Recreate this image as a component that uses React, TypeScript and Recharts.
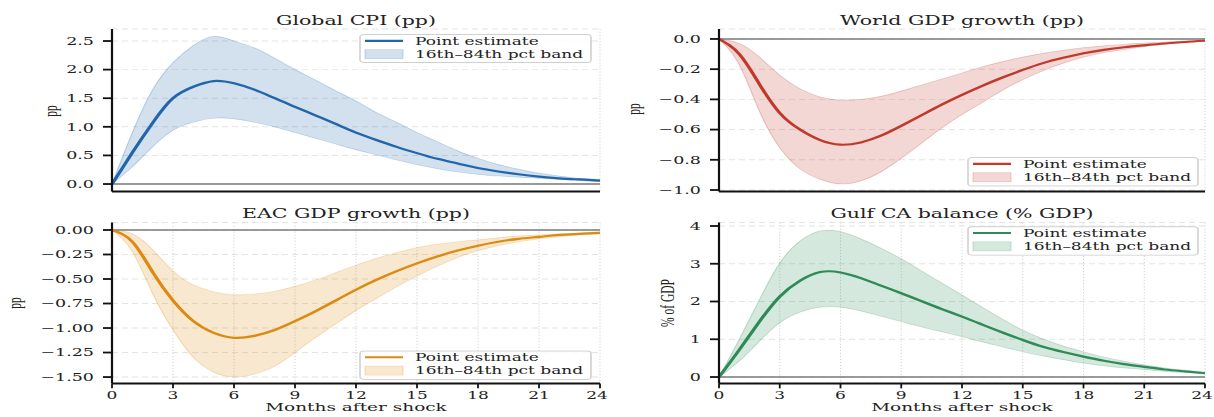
import { ComposedChart, Area, Line, XAxis, YAxis, CartesianGrid, ReferenceLine, Legend } from 'recharts';

// the reference picture is squashed vertically, so draw tall and scale down
const S = 1.65;
const W = 1214;
const H = 417;
const FONT = '"DejaVu Serif", serif';

const months = [0, 1, 2, 3, 4, 5, 6, 7, 8, 9, 10, 11, 12, 13, 14, 15, 16, 17, 18, 19, 20, 21, 22, 23, 24];
const xTicks = [0, 3, 6, 9, 12, 15, 18, 21, 24];

const cpiPoint = [0, 0.55, 1.07, 1.5, 1.7, 1.8, 1.76, 1.65, 1.5, 1.35, 1.2, 1.05, 0.9, 0.77, 0.65, 0.54, 0.44, 0.36, 0.28, 0.22, 0.17, 0.13, 0.1, 0.08, 0.06];
const cpiLow = [0, 0.3, 0.65, 0.94, 1.08, 1.15, 1.14, 1.08, 1.0, 0.9, 0.8, 0.7, 0.6, 0.51, 0.42, 0.34, 0.27, 0.21, 0.17, 0.14, 0.12, 0.1, 0.08, 0.06, 0.04];
const cpiHigh = [0, 0.9, 1.65, 2.12, 2.42, 2.58, 2.5, 2.38, 2.2, 2.0, 1.82, 1.63, 1.45, 1.25, 1.08, 0.9, 0.74, 0.58, 0.45, 0.34, 0.26, 0.19, 0.14, 0.1, 0.08];

const worldPoint = [0, -0.1, -0.3, -0.49, -0.6, -0.67, -0.7, -0.685, -0.64, -0.575, -0.505, -0.435, -0.37, -0.31, -0.255, -0.205, -0.16, -0.125, -0.095, -0.072, -0.055, -0.042, -0.03, -0.02, -0.012];
const worldLow = [0, -0.17, -0.48, -0.72, -0.86, -0.93, -0.96, -0.94, -0.88, -0.79, -0.69, -0.59, -0.5, -0.42, -0.34, -0.27, -0.21, -0.16, -0.12, -0.09, -0.07, -0.05, -0.035, -0.02, -0.012];
const worldHigh = [0, -0.03, -0.12, -0.24, -0.33, -0.385, -0.405, -0.4, -0.38, -0.345, -0.305, -0.265, -0.225, -0.185, -0.15, -0.12, -0.095, -0.075, -0.058, -0.045, -0.035, -0.027, -0.02, -0.014, -0.01];

const eacPoint = [0, -0.12, -0.43, -0.72, -0.93, -1.05, -1.1, -1.08, -1.02, -0.93, -0.83, -0.72, -0.61, -0.51, -0.42, -0.34, -0.27, -0.21, -0.16, -0.12, -0.09, -0.07, -0.05, -0.04, -0.03];
const eacLow = [0, -0.22, -0.65, -1.02, -1.3, -1.45, -1.5, -1.47, -1.39, -1.25, -1.1, -0.96, -0.82, -0.7, -0.58, -0.47, -0.37, -0.28, -0.21, -0.16, -0.12, -0.09, -0.07, -0.05, -0.04];
const eacHigh = [0, -0.04, -0.2, -0.42, -0.56, -0.63, -0.66, -0.655, -0.625, -0.575, -0.51, -0.435, -0.36, -0.29, -0.23, -0.18, -0.145, -0.12, -0.1, -0.08, -0.06, -0.05, -0.04, -0.03, -0.02];

const gulfPoint = [0, 0.72, 1.47, 2.13, 2.55, 2.78, 2.77, 2.62, 2.42, 2.22, 2.01, 1.8, 1.6, 1.39, 1.18, 0.98, 0.8, 0.66, 0.54, 0.43, 0.34, 0.27, 0.2, 0.15, 0.1];
const gulfLow = [0, 0.42, 0.95, 1.44, 1.72, 1.85, 1.85, 1.75, 1.61, 1.47, 1.33, 1.2, 1.07, 0.93, 0.8, 0.67, 0.56, 0.46, 0.37, 0.3, 0.24, 0.2, 0.15, 0.12, 0.09];
const gulfHigh = [0, 1.0, 2.05, 3.02, 3.6, 3.87, 3.85, 3.66, 3.41, 3.13, 2.81, 2.49, 2.17, 1.85, 1.53, 1.24, 1.01, 0.82, 0.67, 0.53, 0.42, 0.32, 0.24, 0.18, 0.13];

const cpiTicks = [0, 0.5, 1, 1.5, 2, 2.5];
const worldTicks = [-1, -0.8, -0.6, -0.4, -0.2, 0];
const eacTicks = [-1.5, -1.25, -1, -0.75, -0.5, -0.25, 0];
const gulfTicks = [0, 1, 2, 3, 4];

const lineLabel = 'Point estimate';
const bandLabel = '16th–84th pct band';
const xLabel = 'Months after shock';

function fmt(v: number, digits: number) {
  return v.toFixed(digits).replace('-', '\u2212');
}

// keeps the last x label ("24") inside the page edge
function XTick({ x, y, payload, edge }: any) {
  const dx = x > edge - 12 ? -3 : 0;
  return (
    <text x={x + dx} y={y} dy="0.71em" textAnchor="middle" fontFamily={FONT} fontSize={17} fill="#222">
      {payload.value}
    </text>
  );
}

function LegendBox({ payload, color, width, height }: any) {
  const items = [...(payload || [])].sort((a: any) => (a.type === 'line' ? -1 : 1));
  return (
    <svg width={width} height={height} style={{ display: 'block' }}>
      <rect x={1} y={1} width={width - 2} height={height - 2} rx={4} fill="rgba(255,255,255,0.85)" stroke="#d0d0d0" strokeWidth={1.6} />
      {items.map((it: any, i: number) => {
        const cy = i === 0 ? 11.5 : 33.5;
        return (
          <g key={it.value}>
            {it.type === 'line' ? (
              <line x1={6} x2={44} y1={cy} y2={cy} stroke={color} strokeWidth={3.6} />
            ) : (
              <rect x={6} y={cy - 7.5} width={38} height={15} fill={color} fillOpacity={0.2} stroke={color} strokeOpacity={0.25} />
            )}
            <text x={56} y={cy} dominantBaseline="central" fontFamily={FONT} fontSize={17} fill="#222">
              {it.value}
            </text>
          </g>
        );
      })}
    </svg>
  );
}

interface PanelProps {
  left: number;
  top: number;
  width: number;
  height: number;
  yWidth: number;
  margin: { top: number; right: number; bottom: number; left: number };
  xHeight: number;
  showX: boolean;
  domain: [number, number];
  ticks: number[];
  digits: number;
  color: string;
  point: number[];
  low: number[];
  high: number[];
  legend: { left: number; top: number; width: number; height: number };
}

function Panel(p: PanelProps) {
  const data = months.map((m, i) => ({ m, point: p.point[i], band: [p.low[i], p.high[i]] }));
  const edge = p.width - p.margin.right;
  return (
    <div style={{ position: 'absolute', left: p.left, top: p.top }}>
      <ComposedChart width={p.width} height={p.height} data={data} margin={p.margin}>
        <CartesianGrid horizontal={false} stroke="#c8c8c8" strokeDasharray="2 3" strokeWidth={1} />
        <CartesianGrid vertical={false} stroke="#e4e4e4" strokeDasharray="6 4" strokeWidth={1.6} />
        <XAxis
          dataKey="m"
          type="number"
          domain={[0, 24]}
          ticks={xTicks}
          height={p.xHeight}
          axisLine={{ stroke: '#111', strokeWidth: 3.4 }}
          tickLine={{ stroke: '#111', strokeWidth: 1.8 }}
          tickSize={8}
          tickMargin={5}
          tick={p.showX ? (props: any) => <XTick {...props} edge={edge} /> : false}
        />
        <YAxis
          type="number"
          domain={p.domain}
          ticks={p.ticks}
          allowDataOverflow
          width={p.yWidth}
          axisLine={{ stroke: '#111', strokeWidth: 2.2 }}
          tickLine={{ stroke: '#111', strokeWidth: 3 }}
          tickSize={9}
          tickMargin={9}
          tick={{ fill: '#222', fontSize: 17.5, fontFamily: FONT }}
          tickFormatter={(v: number) => fmt(v, p.digits)}
        />
        <Area
          dataKey="band"
          name={bandLabel}
          type="natural"
          fill={p.color}
          fillOpacity={0.2}
          stroke={p.color}
          strokeOpacity={0.25}
          strokeWidth={1.2}
          legendType="rect"
          isAnimationActive={false}
        />
        <ReferenceLine y={0} stroke="#7a7a7a" strokeWidth={2.6} />
        <Line
          dataKey="point"
          name={lineLabel}
          type="natural"
          stroke={p.color}
          strokeWidth={3.6}
          dot={false}
          legendType="line"
          isAnimationActive={false}
        />
        <Legend
          layout="vertical"
          align="center"
          verticalAlign="middle"
          wrapperStyle={{ left: p.legend.left, top: p.legend.top, width: p.legend.width, height: p.legend.height }}
          content={(props: any) => (
            <LegendBox payload={props.payload} color={p.color} width={p.legend.width} height={p.legend.height} />
          )}
        />
      </ComposedChart>
    </div>
  );
}

const topMargin = { top: 29 * S, right: 10, bottom: 0, left: 0 };
const topMarginR = { top: 29 * S, right: 9, bottom: 0, left: 0 };
const botMargin = { top: 37.1, right: 10, bottom: 25.2, left: 0 };
const botMarginR = { top: 37.1, right: 9, bottom: 25.2, left: 0 };

export default function App() {
  const txt = { fontFamily: FONT, fill: '#222' };
  const ylab = { fontFamily: '"Liberation Serif", serif', fontSize: 19, fill: '#222' };
  return (
    <div style={{ position: 'absolute', left: 0, top: 0, width: W, height: H, overflow: 'hidden', background: '#fff' }}>
      <div style={{ position: 'relative', width: W, height: H * S, transform: `scaleY(${1 / S})`, transformOrigin: '0 0' }}>
        <Panel
          left={0} top={0} width={610} height={330} yWidth={112} margin={topMargin} xHeight={14} showX={false}
          domain={[-0.131, 2.71]} ticks={cpiTicks} digits={1} color="#2166ac"
          point={cpiPoint} low={cpiLow} high={cpiHigh}
          legend={{ left: 359, top: 56, width: 233, height: 48 }}
        />
        <Panel
          left={610} top={0} width={604} height={330} yWidth={109} margin={topMarginR} xHeight={14} showX={false}
          domain={[-1.01, 0.066]} ticks={worldTicks} digits={1} color="#c0392b"
          point={worldPoint} low={worldLow} high={worldHigh}
          legend={{ left: 357, top: 258.5, width: 232, height: 49 }}
        />
        <Panel
          left={0} top={330} width={610} height={358} yWidth={112} margin={botMargin} xHeight={30} showX
          domain={[-1.566, 0.0765]} ticks={eacTicks} digits={2} color="#dc8a10"
          point={eacPoint} low={eacLow} high={eacHigh}
          legend={{ left: 359, top: 247.5, width: 233, height: 49 }}
        />
        <Panel
          left={610} top={330} width={604} height={358} yWidth={109} margin={botMarginR} xHeight={30} showX
          domain={[-0.172, 4.093]} ticks={gulfTicks} digits={0} color="#2e8b57"
          point={gulfPoint} low={gulfLow} high={gulfHigh}
          legend={{ left: 357, top: 43, width: 232, height: 49 }}
        />
        <svg width={W} height={H * S} style={{ position: 'absolute', left: 0, top: 0, pointerEvents: 'none' }}>
          <text x={356} y={25 * S} textAnchor="middle" fontSize={20.5} {...txt}>Global CPI (pp)</text>
          <text x={962} y={25 * S} textAnchor="middle" fontSize={20.5} {...txt}>World GDP growth (pp)</text>
          <text x={356} y={218 * S} textAnchor="middle" fontSize={20.5} {...txt}>EAC GDP growth (pp)</text>
          <text x={962} y={218 * S} textAnchor="middle" fontSize={20.5} {...txt}>Gulf CA balance (% GDP)</text>
          <text x={356} y={411 * S} textAnchor="middle" fontSize={18.5} {...txt}>{xLabel}</text>
          <text x={962} y={411 * S} textAnchor="middle" fontSize={18.5} {...txt}>{xLabel}</text>
          <text x={50} y={111 * S} transform={`rotate(-90 50 ${111 * S})`} textAnchor="middle" dominantBaseline="central" {...ylab}>pp</text>
          <text x={633} y={109 * S} transform={`rotate(-90 633 ${109 * S})`} textAnchor="middle" dominantBaseline="central" {...ylab}>pp</text>
          <text x={14} y={303 * S} transform={`rotate(-90 14 ${303 * S})`} textAnchor="middle" dominantBaseline="central" {...ylab}>pp</text>
          <text x={667} y={303 * S} transform={`rotate(-90 667 ${303 * S})`} textAnchor="middle" dominantBaseline="central" {...ylab}>% of GDP</text>
        </svg>
      </div>
    </div>
  );
}
